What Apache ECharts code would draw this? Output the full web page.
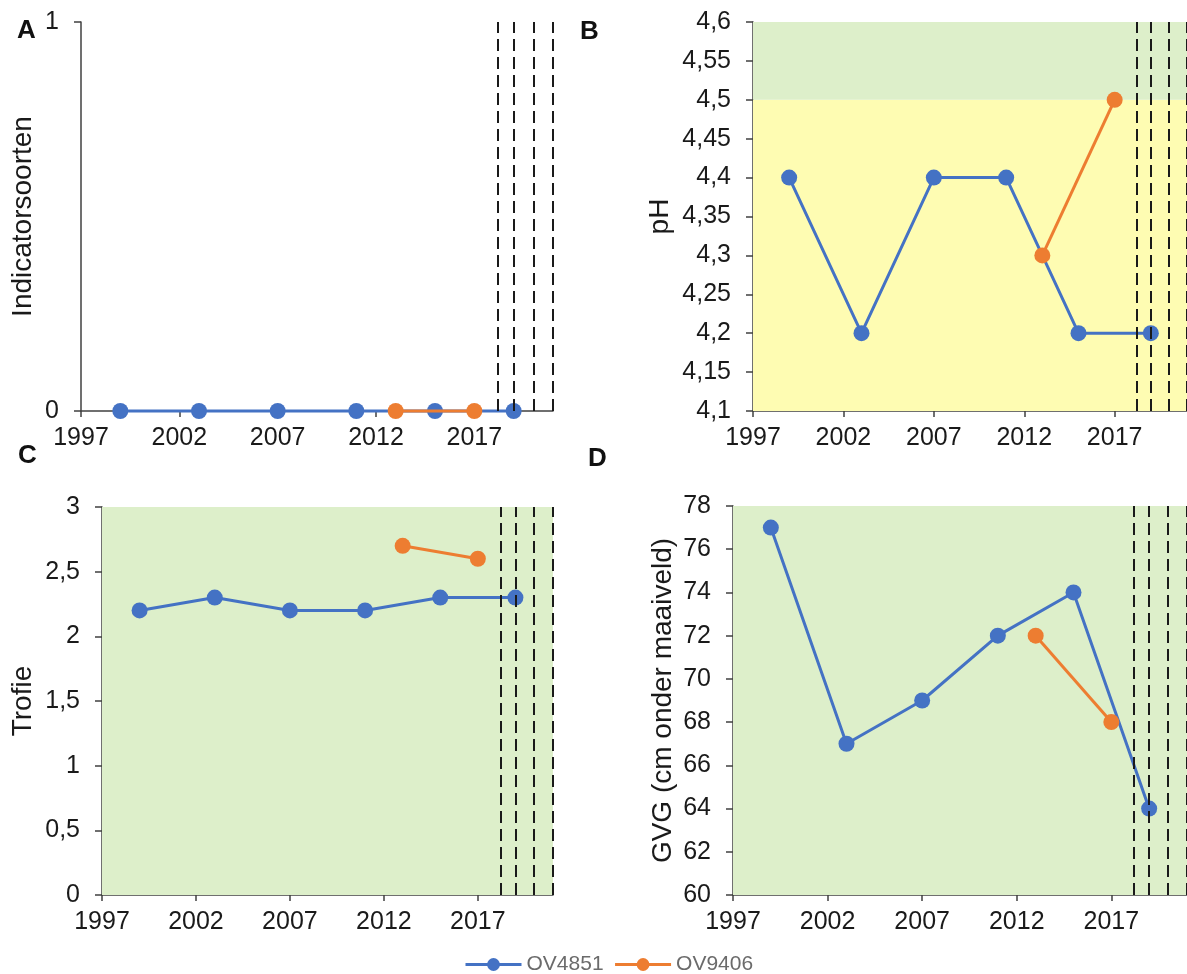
<!DOCTYPE html>
<html>
<head>
<meta charset="utf-8">
<script src="https://cdn.jsdelivr.net/npm/echarts@6/dist/echarts.min.js"></script>
<style>
html,body{margin:0;padding:0;background:#fff;}
#chart{width:1187px;height:974px;}
</style>
</head>
<body>
<div id="chart"></div>
<script>
// ---- data ----
const seriesNames = ['OV4851', 'OV9406'];
const yearsOV4851 = [1999, 2003, 2007, 2011, 2015, 2019];
const yearsOV9406 = [2013, 2017];
const indicatorOV4851 = [0, 0, 0, 0, 0, 0];
const indicatorOV9406 = [0, 0];
const phOV4851 = [4.4, 4.2, 4.4, 4.4, 4.2, 4.2];
const phOV9406 = [4.3, 4.5];
const trofieOV4851 = [2.2, 2.3, 2.2, 2.2, 2.3, 2.3];
const trofieOV9406 = [2.7, 2.6];
const gvgOV4851 = [77, 67, 69, 72, 74, 64];
const gvgOV9406 = [72, 68];
const dashYears = [2018.2, 2019, 2020, 2021];
const xTickLabels = [1997, 2002, 2007, 2012, 2017];
const xRange = [1997, 2021];
const phZoneYellow = [4.1, 4.5];
const phZoneGreen = [4.5, 4.6];
const trofieZoneGreen = [0, 3];
const gvgZoneGreen = [60, 78];
const panelLetters = ['A', 'B', 'C', 'D'];
const yNames = ['Indicatorsoorten', 'pH', 'Trofie', 'GVG (cm onder maaiveld)'];

// ---- styles ----
const BLUE = '#4472C4', ORANGE = '#ED7D31';
const GREEN = '#DDEFCA', YELLOW = '#FEFCB2';
const FONT = 'Liberation Sans, Arial, sans-serif';
const TXT = '#1a1a1a';
const AXIS = '#404040';

function pairs(xs, ys) { return xs.map((x, i) => [x, ys[i]]); }
function fmt(v) { return String(Math.round(v * 100) / 100).replace('.', ','); }

const grids = [
  { left: 81, top: 22, width: 472, height: 389 },
  { left: 753, top: 22, width: 436, height: 389 },
  { left: 102, top: 507, width: 451, height: 388 },
  { left: 733, top: 506, width: 456, height: 389 }
];

const yCfg = [
  { min: 0, max: 1, interval: 1, nameGap: 44 },
  { min: 4.1, max: 4.6, interval: 0.05, nameGap: 79 },
  { min: 0, max: 3, interval: 0.5, nameGap: 65 },
  { min: 60, max: 78, interval: 2, nameGap: 56 }
];

const xAxes = grids.map((g, i) => ({
  type: 'value', gridIndex: i, min: xRange[0], max: xRange[1],
  axisLine: { show: true, lineStyle: { color: AXIS, width: 1.5 } },
  axisTick: { show: true, length: 6, lineStyle: { color: AXIS, width: 1.5 }, customValues: xTickLabels },
  axisLabel: { customValues: xTickLabels, fontSize: 25, color: TXT, fontFamily: FONT, margin: 15,
    formatter: v => String(v) },
  splitLine: { show: false }
}));

const yAxes = yCfg.map((c, i) => ({
  type: 'value', gridIndex: i, min: c.min, max: c.max, interval: c.interval,
  name: yNames[i], nameLocation: 'middle', nameGap: c.nameGap,
  nameTextStyle: { fontSize: 28, color: TXT, fontFamily: FONT },
  axisLine: { show: true, lineStyle: { color: AXIS, width: 1.5 } },
  axisTick: { show: true, length: 7, lineStyle: { color: AXIS, width: 1.5 } },
  axisLabel: { fontSize: 25, color: TXT, fontFamily: FONT, margin: 22, formatter: fmt },
  splitLine: { show: false }
}));

const zones = [
  [],
  [[phZoneYellow, YELLOW], [phZoneGreen, GREEN]],
  [[trofieZoneGreen, GREEN]],
  [[gvgZoneGreen, GREEN]]
];

const helperSeries = grids.map((g, i) => ({
  type: 'line', xAxisIndex: i, yAxisIndex: i, data: [], z: 1, silent: true,
  markArea: {
    silent: true,
    data: zones[i].map(z => [{ yAxis: z[0][0], itemStyle: { color: z[1] } }, { yAxis: z[0][1] }])
  },
  markLine: {
    silent: true, symbol: ['none', 'none'], label: { show: false },
    lineStyle: { color: '#1a1a1a', width: 2, type: [12, 6] },
    data: dashYears.map(y => ({ xAxis: y }))
  }
}));

const dataSets = [
  [indicatorOV4851, indicatorOV9406],
  [phOV4851, phOV9406],
  [trofieOV4851, trofieOV9406],
  [gvgOV4851, gvgOV9406]
];

const dataSeries = [];
dataSets.forEach((d, i) => {
  dataSeries.push({
    name: seriesNames[0], type: 'line', xAxisIndex: i, yAxisIndex: i, z: 3,
    data: pairs(yearsOV4851, d[0]), symbol: 'circle', symbolSize: 16,
    lineStyle: { color: BLUE, width: 3 }, itemStyle: { color: BLUE }, clip: false
  });
  dataSeries.push({
    name: seriesNames[1], type: 'line', xAxisIndex: i, yAxisIndex: i, z: 4,
    data: pairs(yearsOV9406, d[1]), symbol: 'circle', symbolSize: 16,
    lineStyle: { color: ORANGE, width: 3 }, itemStyle: { color: ORANGE }, clip: false
  });
});

const letterPos = [[17, 18], [580, 19], [18, 443], [588, 446]];
const graphics = panelLetters.map((t, i) => ({
  type: 'text', left: letterPos[i][0], top: letterPos[i][1],
  style: { text: t, fontSize: 26, fontWeight: 'bold', fill: '#111', fontFamily: FONT }
}));

const chart = echarts.init(document.getElementById('chart'), null, { renderer: 'canvas' });
chart.setOption({
  animation: false,
  backgroundColor: '#fff',
  grid: grids,
  xAxis: xAxes,
  yAxis: yAxes,
  legend: {
    data: seriesNames, left: 464, top: 954, itemWidth: 56, itemHeight: 16, itemGap: 10,
    padding: 0,
    lineStyle: { width: 3 },
    textStyle: { fontSize: 21, color: '#6b6b6b', fontFamily: FONT }
  },
  graphic: graphics,
  series: helperSeries.concat(dataSeries)
});
</script>
</body>
</html>
